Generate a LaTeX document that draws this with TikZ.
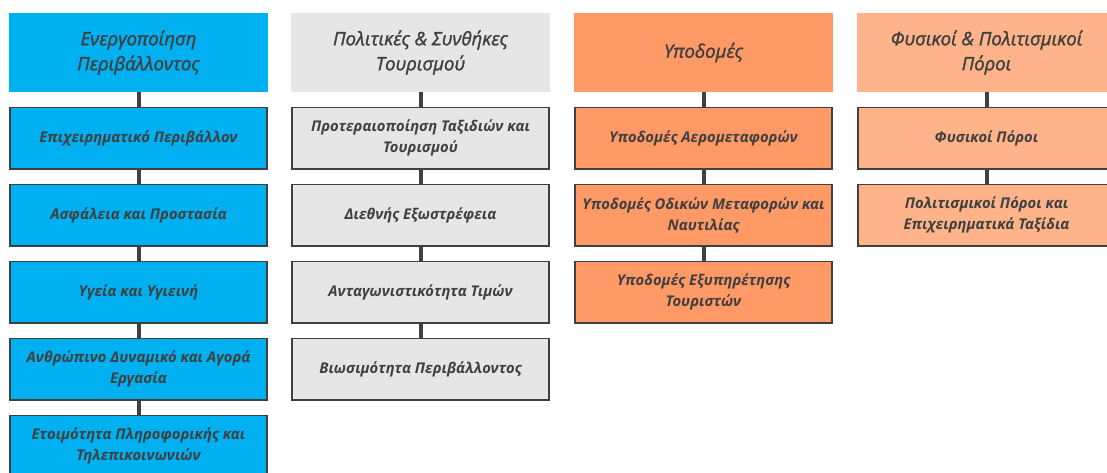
\documentclass[tikz,border=0pt]{standalone}
\usepackage{fontspec}
\setmainfont{Open Sans}
\newfontfamily\headfont{Open Sans}[ItalicFeatures={FakeBold=1.6}]
\usetikzlibrary{positioning}
\definecolor{bluefill}{HTML}{00B0F0}
\definecolor{grayfill}{HTML}{E7E6E6}
\definecolor{orangefill}{HTML}{FF9966}
\definecolor{salmonfill}{HTML}{FFB38A}
\definecolor{darkline}{HTML}{404040}
\tikzset{
  head/.style={minimum width=259pt, minimum height=79pt, inner sep=0pt,
    outer sep=0pt, align=center, text=darkline,
    font=\headfont\itshape\fontsize{18.5}{25}\selectfont},
  item/.style={draw=darkline, line width=1.6pt, minimum width=257pt,
    minimum height=61.5pt, inner sep=0pt, outer sep=0pt, align=center,
    text=darkline, font=\bfseries\itshape\fontsize{14.8}{21}\selectfont},
  link/.style={darkline, line width=4pt}
}
\begin{document}
\begin{tikzpicture}[x=1pt,y=-1pt]
\useasboundingbox[fill=white] (0,0) rectangle (1107,473);
%headers
\node[head, fill=bluefill] (h1) at (138.5, 52.5) {Ενεργοποίηση\\Περιβάλλοντος};
\node[head, fill=grayfill] (h2) at (420.5, 52.5) {Πολιτικές \& Συνθήκες\\Τουρισμού};
\node[head, fill=orangefill] (h3) at (703.5, 52.5) {Υποδομές};
\node[head, fill=salmonfill] (h4) at (986.5, 52.5) {Φυσικοί \& Πολιτισμικοί\\Πόροι};
%first column
\node[item, fill=bluefill, below=15.5pt of h1] (a1) {Επιχειρηματικό Περιβάλλον};
\node[item, fill=bluefill, below=15.5pt of a1] (a2) {Ασφάλεια και Προστασία};
\node[item, fill=bluefill, below=15.5pt of a2] (a3) {Υγεία και Υγιεινή};
\node[item, fill=bluefill, below=15.5pt of a3] (a4) {Ανθρώπινο Δυναμικό και Αγορά\\Εργασία};
\node[item, fill=bluefill, below=15.5pt of a4] (a5) {Ετοιμότητα Πληροφορικής και\\Τηλεπικοινωνιών};
%second column
\node[item, fill=grayfill, below=15.5pt of h2] (b1) {Προτεραιοποίηση Ταξιδιών και\\Τουρισμού};
\node[item, fill=grayfill, below=15.5pt of b1] (b2) {Διεθνής Εξωστρέφεια};
\node[item, fill=grayfill, below=15.5pt of b2] (b3) {Ανταγωνιστικότητα Τιμών};
\node[item, fill=grayfill, below=15.5pt of b3] (b4) {Βιωσιμότητα Περιβάλλοντος};
%third column
\node[item, fill=orangefill, below=15.5pt of h3] (c1) {Υποδομές Αερομεταφορών};
\node[item, fill=orangefill, below=15.5pt of c1] (c2) {Υποδομές Οδικών Μεταφορών και\\Ναυτιλίας};
\node[item, fill=orangefill, below=15.5pt of c2] (c3) {Υποδομές Εξυπηρέτησης\\Τουριστών};
%fourth column
\node[item, fill=salmonfill, below=15.5pt of h4] (d1) {Φυσικοί Πόροι};
\node[item, fill=salmonfill, below=15.5pt of d1] (d2) {Πολιτισμικοί Πόροι και\\Επιχειρηματικά Ταξίδια};
%links
\draw[link] (h1) -- (a1);
\draw[link] (a1) -- (a2);
\draw[link] (a2) -- (a3);
\draw[link] (a3) -- (a4);
\draw[link] (a4) -- (a5);
\draw[link] (h2) -- (b1);
\draw[link] (b1) -- (b2);
\draw[link] (b2) -- (b3);
\draw[link] (b3) -- (b4);
\draw[link] (h3) -- (c1);
\draw[link] (c1) -- (c2);
\draw[link] (c2) -- (c3);
\draw[link] (h4) -- (d1);
\draw[link] (d1) -- (d2);
\end{tikzpicture}
\end{document}
